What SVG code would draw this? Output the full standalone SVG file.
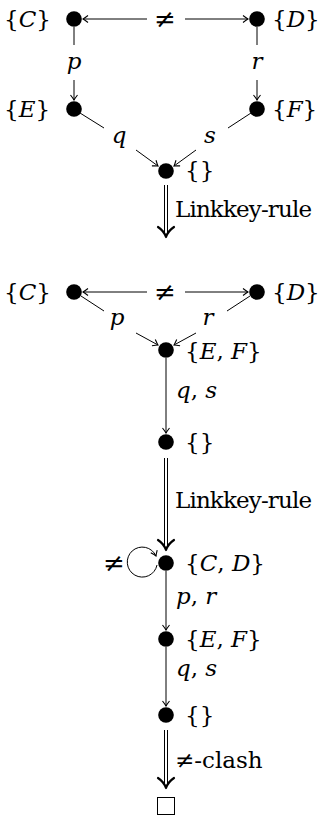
<svg xmlns="http://www.w3.org/2000/svg" width="322" height="816" viewBox="0 0 322 816">
<defs>
<style>
.e{stroke:#000;stroke-width:1;fill:none}
.dot{fill:#000}
.dh{stroke:#000;stroke-width:2.2;fill:none;stroke-linecap:round;stroke-linejoin:round}
text{font-family:"DejaVu Serif",serif;font-size:23px}
.ne{font-size:26px}
</style>
<marker id="ar" viewBox="-6 -5 7 10" refX="0" refY="0" markerWidth="7" markerHeight="10" markerUnits="userSpaceOnUse" orient="auto">
<path d="M-5,-3.5 Q-1.5,-0.8 0,0 Q-1.5,0.8 -5,3.5" stroke="#000" stroke-width="1.1" fill="none"/>
</marker>
</defs>
<rect width="322" height="816" fill="#fff"/>

<g id="connectors">
<line class="e" x1="147" y1="19" x2="83" y2="19" marker-end="url(#ar)"/>
<line class="e" x1="185" y1="19" x2="248" y2="19" marker-end="url(#ar)"/>
<line class="e" x1="74" y1="27" x2="74" y2="45"/>
<line class="e" x1="74" y1="80" x2="74" y2="100" marker-end="url(#ar)"/>
<line class="e" x1="257" y1="27" x2="257" y2="45"/>
<line class="e" x1="257" y1="80" x2="257" y2="100" marker-end="url(#ar)"/>
<line class="e" x1="80" y1="113" x2="104" y2="128"/>
<line class="e" x1="136" y1="150" x2="158" y2="166" marker-end="url(#ar)"/>
<line class="e" x1="251" y1="113" x2="228" y2="128"/>
<line class="e" x1="196" y1="150" x2="174" y2="166" marker-end="url(#ar)"/>
<line class="e" x1="164.5" y1="185" x2="164.5" y2="234"/>
<line class="e" x1="167.5" y1="185" x2="167.5" y2="234"/>
<path class="dh" d="M158,227 Q164,231 166,237 Q168,231 174,227"/>

<line class="e" x1="147" y1="292" x2="83" y2="292" marker-end="url(#ar)"/>
<line class="e" x1="185" y1="292" x2="248" y2="292" marker-end="url(#ar)"/>
<line class="e" x1="81" y1="296" x2="104" y2="311"/>
<line class="e" x1="136" y1="333" x2="158" y2="345" marker-end="url(#ar)"/>
<line class="e" x1="250" y1="296" x2="227" y2="311"/>
<line class="e" x1="196" y1="333" x2="174" y2="345" marker-end="url(#ar)"/>
<line class="e" x1="166" y1="358" x2="166" y2="433" marker-end="url(#ar)"/>
<line class="e" x1="164.5" y1="458" x2="164.5" y2="547"/>
<line class="e" x1="167.5" y1="458" x2="167.5" y2="547"/>
<path class="dh" d="M158,540 Q164,544 166,550 Q168,544 174,540"/>

<path class="e" d="M157,565 A15,15 0 1 1 156,556" marker-end="url(#ar)"/>
<line class="e" x1="166" y1="571" x2="166" y2="630" marker-end="url(#ar)"/>
<line class="e" x1="166" y1="647" x2="166" y2="706" marker-end="url(#ar)"/>
<line class="e" x1="164.5" y1="730" x2="164.5" y2="785"/>
<line class="e" x1="167.5" y1="730" x2="167.5" y2="785"/>
<path class="dh" d="M158,778 Q164,782 166,788 Q168,782 174,778"/>
</g>

<g fill="#000">
<g id="n1"><circle class="dot" cx="74" cy="19" r="7.8"/><text x="4" y="27">{<tspan font-style="italic">C</tspan>}</text></g>
<g id="n2"><circle class="dot" cx="257" cy="19" r="7.8"/><text x="272" y="27">{<tspan font-style="italic">D</tspan>}</text></g>
<g id="n3"><circle class="dot" cx="74" cy="109" r="7.8"/><text x="4" y="117">{<tspan font-style="italic">E</tspan>}</text></g>
<g id="n4"><circle class="dot" cx="257" cy="109" r="7.8"/><text x="272" y="117">{<tspan font-style="italic">F</tspan>}</text></g>
<g id="n5"><circle class="dot" cx="166" cy="171" r="7.8"/><text x="185" y="178">{}</text></g>

<g id="n6"><circle class="dot" cx="74" cy="292" r="7.8"/><text x="4" y="300">{<tspan font-style="italic">C</tspan>}</text></g>
<g id="n7"><circle class="dot" cx="257" cy="292" r="7.8"/><text x="272" y="300">{<tspan font-style="italic">D</tspan>}</text></g>
<g id="n8"><circle class="dot" cx="166" cy="350" r="7.8"/><text x="185" y="359">{<tspan font-style="italic">E</tspan>, <tspan font-style="italic">F</tspan>}</text></g>
<g id="n9"><circle class="dot" cx="166" cy="442" r="7.8"/><text x="185" y="450">{}</text></g>

<g id="n10"><circle class="dot" cx="166" cy="563" r="7.8"/><text x="185" y="571">{<tspan font-style="italic">C</tspan>, <tspan font-style="italic">D</tspan>}</text></g>
<g id="n11"><circle class="dot" cx="166" cy="639" r="7.8"/><text x="185" y="647">{<tspan font-style="italic">E</tspan>, <tspan font-style="italic">F</tspan>}</text></g>
<g id="n12"><circle class="dot" cx="166" cy="715" r="7.8"/><text x="185" y="723">{}</text></g>
<g id="n13"><rect x="157.5" y="797.5" width="17" height="17" fill="#fff" stroke="#000" stroke-width="1"/></g>

<g id="labels">
<text class="ne" x="165" y="28" text-anchor="middle">≠</text>
<text font-style="italic" x="74" y="69" text-anchor="middle">p</text>
<text font-style="italic" x="257" y="69" text-anchor="middle">r</text>
<text font-style="italic" x="119" y="143" text-anchor="middle">q</text>
<text font-style="italic" x="210" y="143" text-anchor="middle">s</text>
<text x="175" y="217" textLength="137">Linkkey-rule</text>
<text class="ne" x="165" y="301" text-anchor="middle">≠</text>
<text font-style="italic" x="117" y="325" text-anchor="middle">p</text>
<text font-style="italic" x="208" y="325" text-anchor="middle">r</text>
<text x="176" y="398"><tspan font-style="italic">q</tspan>, <tspan font-style="italic">s</tspan></text>
<text x="175" y="508" textLength="137">Linkkey-rule</text>
<text class="ne" x="114" y="572" text-anchor="middle">≠</text>
<text x="176" y="604"><tspan font-style="italic">p</tspan>, <tspan font-style="italic">r</tspan></text>
<text x="176" y="676"><tspan font-style="italic">q</tspan>, <tspan font-style="italic">s</tspan></text>
<text x="175" y="768">≠-clash</text>
</g>
</g>
</svg>
